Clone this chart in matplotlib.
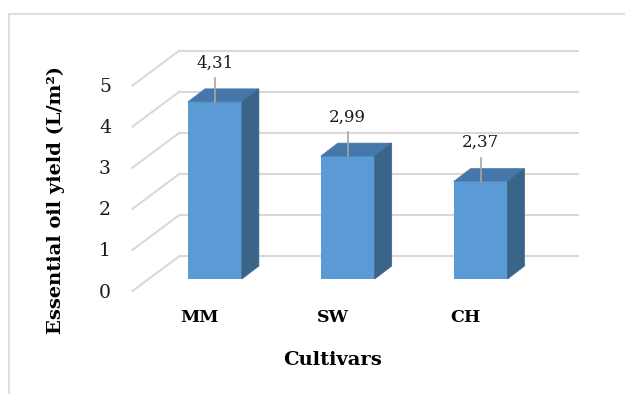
import matplotlib
matplotlib.use("Agg")
import matplotlib.pyplot as plt
from matplotlib.patches import Polygon
from matplotlib.lines import Line2D

categories = ["MM", "SW", "CH"]
values = [4.31, 2.99, 2.37]
value_labels = ["4,31", "2,99", "2,37"]
yticks = [0, 1, 2, 3, 4, 5]
ylabel = "Essential oil yield (L/m²)"
xlabel = "Cultivars"

W, H = 625, 394
fig = plt.figure(figsize=(W / 100, H / 100), dpi=100)
fig.patch.set_facecolor("white")

# axes = front plane of the bars
L, R, B, T = 148.5, 547.0, 279.0, 73.5
ax = fig.add_axes([L / W, (H - B) / H, (R - L) / W, (B - T) / H])
ax.set_xlim(-0.5, len(categories) - 0.5)
ax.set_ylim(0, 5)
ax.axis("off")

sx = (len(categories)) / (R - L)
sy = 5 / (B - T)


def P(x, y, dxp=0.0, dyp=0.0):
    return (x + dxp * sx, y + dyp * sy)


serif = ["DejaVu Serif"]
grid_c = "#D9D9D9"
front_c = "#5B9BD5"
top_c = "#4677AA"
side_c = "#3B6489"

x0, x1 = -0.5, len(categories) - 0.5
back = (31, 23)
front = (-16, -12)
for v in yticks:
    a = P(x0, v, *back)
    b = P(x1, v, *back)
    ax.plot([a[0], b[0]], [a[1], b[1]], color=grid_c, lw=1.5, zorder=1, clip_on=False)
    c = P(x0, v, *front)
    ax.plot([c[0], a[0]], [c[1], a[1]], color=grid_c, lw=1.5, zorder=1, clip_on=False)
    t = P(x0, v, -43.5, -13.5)
    ax.text(t[0], t[1], str(v), ha="center", va="center", fontsize=13.5,
            family=serif, color="#1a1a1a")

xs = list(range(len(categories)))
bw = 0.406
bdx, bdy = 17, 13
ax.bar(xs, values, width=bw, color=front_c, zorder=3, clip_on=False)
for x, v in zip(xs, values):
    xl, xr = x - bw / 2, x + bw / 2
    top = [P(xl, v), P(xr, v), P(xr, v, bdx, bdy), P(xl, v, bdx, bdy)]
    side = [P(xr, 0), P(xr, 0, bdx, bdy), P(xr, v, bdx, bdy), P(xr, v)]
    ax.add_patch(Polygon(top, closed=True, facecolor=top_c, edgecolor=top_c,
                         lw=0.5, zorder=3, clip_on=False))
    ax.add_patch(Polygon(side, closed=True, facecolor=side_c, edgecolor=side_c,
                         lw=0.5, zorder=3, clip_on=False))

for x, v, lab in zip(xs, values, value_labels):
    a = P(x, v)
    b = P(x, v, 0, 24)
    ax.plot([a[0], b[0]], [a[1], b[1]], color="#A6A6A6", lw=1.2, zorder=4, clip_on=False)
    t = P(x, v, 0, 39)
    ax.text(t[0], t[1], lab, ha="center", va="center", fontsize=12,
            family=serif, color="#1a1a1a", zorder=5)

for x, c in zip(xs, categories):
    t = P(x, 0, -15, -38.5)
    ax.text(t[0], t[1], c, ha="center", va="center", fontsize=12.5,
            family=serif, fontweight="bold", color="black")

t = P(1, 0, -15, -81)
ax.text(t[0], t[1], xlabel, ha="center", va="center", fontsize=14,
        family=serif, fontweight="bold", color="black")

fig.text(56 / W, 1 - 200 / H, ylabel, rotation=90, ha="center", va="center",
         fontsize=14, family=serif, fontweight="bold", color="black")

# outer chart-area border (top and left visible)
yt = 1 - 14 / H
xl_b = 9 / W
fig.add_artist(Line2D([xl_b, 1.01], [yt, yt], transform=fig.transFigure,
                      color=grid_c, lw=1.2))
fig.add_artist(Line2D([xl_b, xl_b], [-0.01, yt], transform=fig.transFigure,
                      color=grid_c, lw=1.2))

fig.savefig("out.png", dpi=100, facecolor="white")
